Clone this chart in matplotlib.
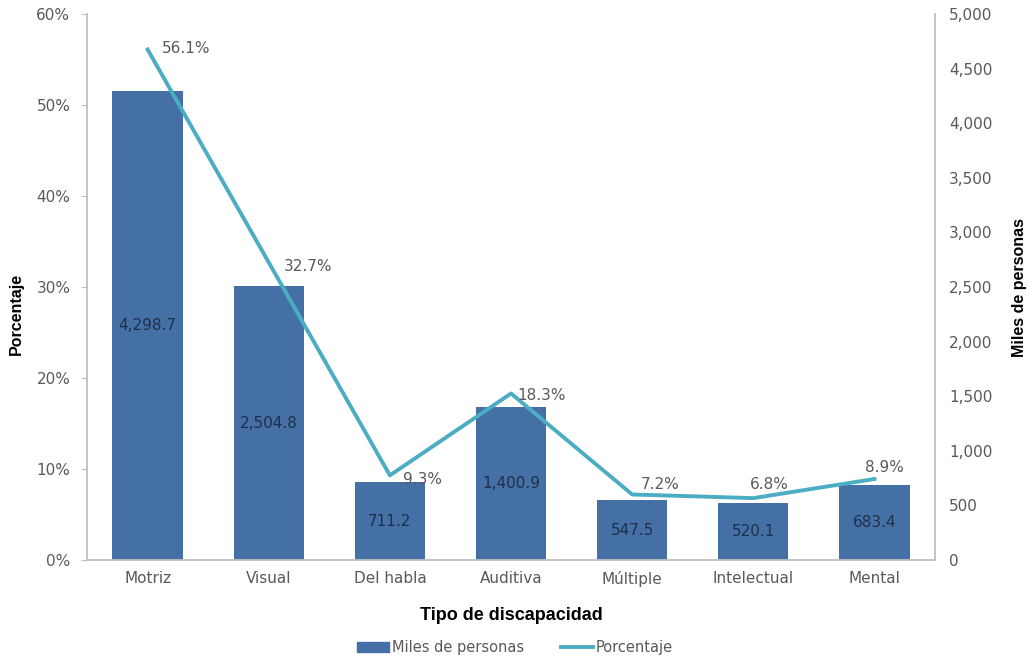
import matplotlib.pyplot as plt
from matplotlib.patches import Patch
from matplotlib.lines import Line2D

categorias = ["Motriz", "Visual", "Del habla", "Auditiva", "Múltiple", "Intelectual", "Mental"]
miles = [4298.7, 2504.8, 711.2, 1400.9, 547.5, 520.1, 683.4]
porcentaje = [56.1, 32.7, 9.3, 18.3, 7.2, 6.8, 8.9]

# label offsets for the percentage labels (in pixels, right / up)
off_px = [(39, 1), (39, -4), (33, -4), (31, -2), (28, 10), (16, 14), (10, 12)]

bar_color = "#4470A6"
line_color = "#4BADC3"
grey = "#595959"
tick_font = "DejaVu Sans"
label_font = ["Liberation Sans Narrow", "Liberation Sans", "DejaVu Sans"]

fig = plt.figure(figsize=(10.3, 6.61), dpi=100)
ax = fig.add_axes([0.0845, 0.1528, 0.8233, 0.826])
ax2 = ax.twinx()

x = list(range(len(categorias)))

# bars on the right axis (thousands of people)
ax2.bar(x, miles, width=0.58, color=bar_color, zorder=2)
for xi, v in zip(x, miles):
    ax2.text(xi, v / 2, f"{v:,.1f}", ha="center", va="center",
             fontsize=11, color="#1F2F4A", family=tick_font)
ax2.set_ylim(0, 5000)
ax2.set_yticks(range(0, 5001, 500))
ax2.set_yticklabels([f"{v:,}" for v in range(0, 5001, 500)])

# line on the left axis (percent)
ax.plot(x, porcentaje, color=line_color, lw=2.8, zorder=3)
for xi, p, (dx, dy) in zip(x, porcentaje, off_px):
    ax.annotate(f"{p}%", (xi, p), xytext=(dx * 0.72, dy * 0.72),
                textcoords="offset points", ha="center", va="center",
                fontsize=11, color=grey, family=tick_font, zorder=4)
ax.set_ylim(0, 60)
ax.set_yticks(range(0, 61, 10))
ax.set_yticklabels([f"{v}%" for v in range(0, 61, 10)])
ax.set_xlim(-0.5, 6.5)
ax.set_xticks(x)
ax.set_xticklabels(categorias)

ax.set_zorder(ax2.get_zorder() + 1)
ax.patch.set_visible(False)

for a in (ax, ax2):
    for s in a.spines.values():
        s.set_color("#BFBFBF")
    a.spines["top"].set_visible(False)
ax.spines["right"].set_visible(False)
ax2.spines["left"].set_visible(False)
ax2.spines["bottom"].set_visible(False)
ax2.spines["right"].set_linewidth(1.3)
ax.spines["left"].set_linewidth(1.3)
ax.spines["bottom"].set_linewidth(1.3)

ax.tick_params(axis="y", length=4, color="#BFBFBF", labelsize=11, labelcolor=grey, pad=8)
ax.tick_params(axis="x", length=0, labelsize=11, labelcolor=grey, pad=8)
ax2.tick_params(axis="y", length=0, labelsize=11, labelcolor=grey, pad=10)
for lab in ax.get_xticklabels() + ax.get_yticklabels() + ax2.get_yticklabels():
    lab.set_family(tick_font)

ax.set_ylabel("Porcentaje", fontsize=11.5, fontweight="bold", family=label_font)
ax.yaxis.set_label_coords(-0.075, 0.45)
ax2.set_ylabel("Miles de personas", fontsize=11.5, fontweight="bold", family=label_font, labelpad=14)
ax.set_xlabel("Tipo de discapacidad", fontsize=13, fontweight="bold", family=label_font, labelpad=14)

handles = [Patch(color=bar_color), Line2D([0], [0], color=line_color, lw=2.8)]
fig.legend(handles, ["Miles de personas", "Porcentaje"], loc="center",
           bbox_to_anchor=(0.5, 0.02), ncol=2, frameon=False,
           prop={"family": tick_font, "size": 10.5}, labelcolor=grey,
           handlelength=2.2, handletextpad=0.2, columnspacing=2.5)

fig.savefig("out.png", dpi=100)
